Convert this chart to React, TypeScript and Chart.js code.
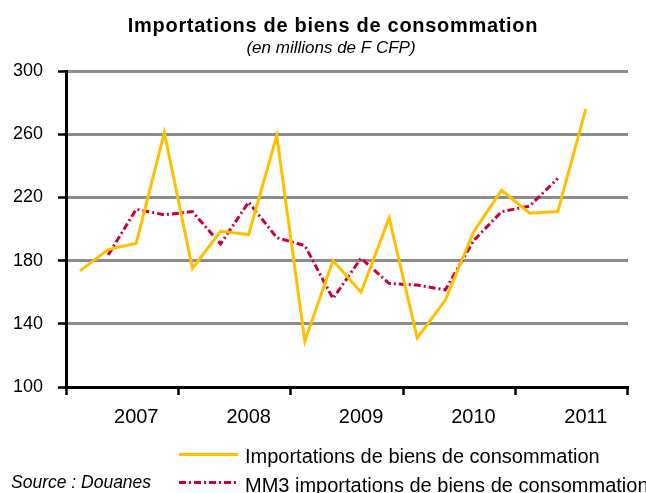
import React, { useEffect, useRef } from "react";
import { Chart, registerables } from "chart.js";

Chart.register(...registerables);

const quarters = [
  "2007T1", "2007T2", "2007T3", "2007T4",
  "2008T1", "2008T2", "2008T3", "2008T4",
  "2009T1", "2009T2", "2009T3", "2009T4",
  "2010T1", "2010T2", "2010T3", "2010T4",
  "2011T1", "2011T2", "2011T3", "2011T4",
];
const yearLabels = [
  "", "", "2007", "", "", "", "2008", "", "", "", "2009", "", "", "", "2010", "", "", "", "2011", "",
];
const imports = [173.5, 187, 191, 261, 175, 198.5, 196.5, 259, 129, 180, 160, 207, 131, 155, 198, 224.5, 210, 211, 276, null];
const mm3 = [null, 183.5, 212.5, 209, 211, 190.5, 217, 194.5, 189.5, 156, 181.5, 165.5, 164.5, 161.5, 192.5, 211, 214.5, 232, null, null];

const titleText = "Importations de biens de consommation";
const subtitleText = "(en millions de F CFP)";
const legendImports = "Importations de biens de consommation";
const legendMM3 = "MM3 importations de biens de consommation";
const sourceText = "Source : Douanes";

const FONT = '"Liberation Sans", Arial, sans-serif';
const YELLOW = "#FFC000";
const RED = "#C8003C";
const DASH = [7, 3, 2, 3];

const textPlugin = {
  id: "texts",
  afterDraw(chart: any) {
    const ctx = chart.ctx as CanvasRenderingContext2D;
    ctx.save();
    ctx.fillStyle = "#000";
    ctx.textAlign = "center";
    ctx.textBaseline = "alphabetic";
    // title
    ctx.font = `bold 20px ${FONT}`;
    (ctx as any).letterSpacing = "0.7px";
    ctx.fillText(titleText, 333, 31.5);
    (ctx as any).letterSpacing = "0px";
    ctx.font = `italic 17px ${FONT}`;
    ctx.fillText(subtitleText, 331, 53);
    // legend
    ctx.textAlign = "left";
    ctx.lineWidth = 3;
    ctx.strokeStyle = YELLOW;
    ctx.beginPath();
    ctx.moveTo(179, 454.5);
    ctx.lineTo(238, 454.5);
    ctx.stroke();
    ctx.strokeStyle = RED;
    ctx.setLineDash(DASH);
    ctx.beginPath();
    ctx.moveTo(179, 482.5);
    ctx.lineTo(238, 482.5);
    ctx.stroke();
    ctx.setLineDash([]);
    ctx.font = `20px ${FONT}`;
    ctx.fillText(legendImports, 245, 463);
    ctx.fillText(legendMM3, 245, 491.5);
    ctx.font = `italic 17.5px ${FONT}`;
    ctx.fillText(sourceText, 11, 488);
    ctx.restore();
  },
};

export default function App() {
  const ref = useRef<HTMLCanvasElement | null>(null);
  useEffect(() => {
    if (!ref.current) return;
    const chart = new Chart(ref.current, {
      type: "line",
      data: {
        labels: quarters,
        datasets: [
          {
            label: legendImports,
            data: imports,
            borderColor: YELLOW,
            backgroundColor: YELLOW,
            borderWidth: 3,
            pointRadius: 0,
            tension: 0,
            fill: false,
            borderJoinStyle: "miter",
          },
          {
            label: legendMM3,
            data: mm3,
            borderColor: RED,
            backgroundColor: RED,
            borderWidth: 3,
            borderDash: DASH,
            pointRadius: 0,
            tension: 0,
            fill: false,
          },
        ],
      },
      options: {
        responsive: false,
        animation: false,
        devicePixelRatio: 1,
        layout: { padding: { top: 71, right: 18, left: 0, bottom: 0 } },
        plugins: {
          legend: { display: false },
          title: { display: false },
          tooltip: { enabled: false },
        },
        scales: {
          x: {
            type: "category",
            offset: true,
            afterFit: (s: any) => {
              s.height = 106;
            },
            grid: {
              offset: true,
              drawOnChartArea: false,
              drawTicks: true,
              tickLength: 8,
              tickWidth: 2.5,
              tickColor: (c: any) =>
                c.index === undefined || c.index % 4 === 0 ? "#000" : "rgba(0,0,0,0)",
            },
            border: { display: true, color: "#000", width: 3 },
            ticks: {
              autoSkip: false,
              maxRotation: 0,
              minRotation: 0,
              padding: 10,
              color: "#000",
              font: { family: FONT, size: 20 },
              callback: (_v: any, i: number) => yearLabels[i],
            },
          },
          y: {
            min: 100,
            max: 300,
            afterFit: (s: any) => {
              s.width = 66;
            },
            grid: {
              color: "#8C8C8C",
              lineWidth: 3,
              tickColor: "#000",
              tickLength: 8,
              tickWidth: 2.5,
            },
            border: { display: true, color: "#000", width: 3 },
            ticks: {
              stepSize: 40,
              padding: 15,
              color: "#000",
              font: { family: FONT, size: 18 },
            },
          },
        },
      },
      plugins: [textPlugin],
    });
    return () => chart.destroy();
  }, []);
  return (
    <div style={{ position: "fixed", left: 0, top: 0, width: 646, height: 493, background: "#fff" }}>
      <canvas ref={ref} width={646} height={493} style={{ width: 646, height: 493, display: "block" }} />
    </div>
  );
}
